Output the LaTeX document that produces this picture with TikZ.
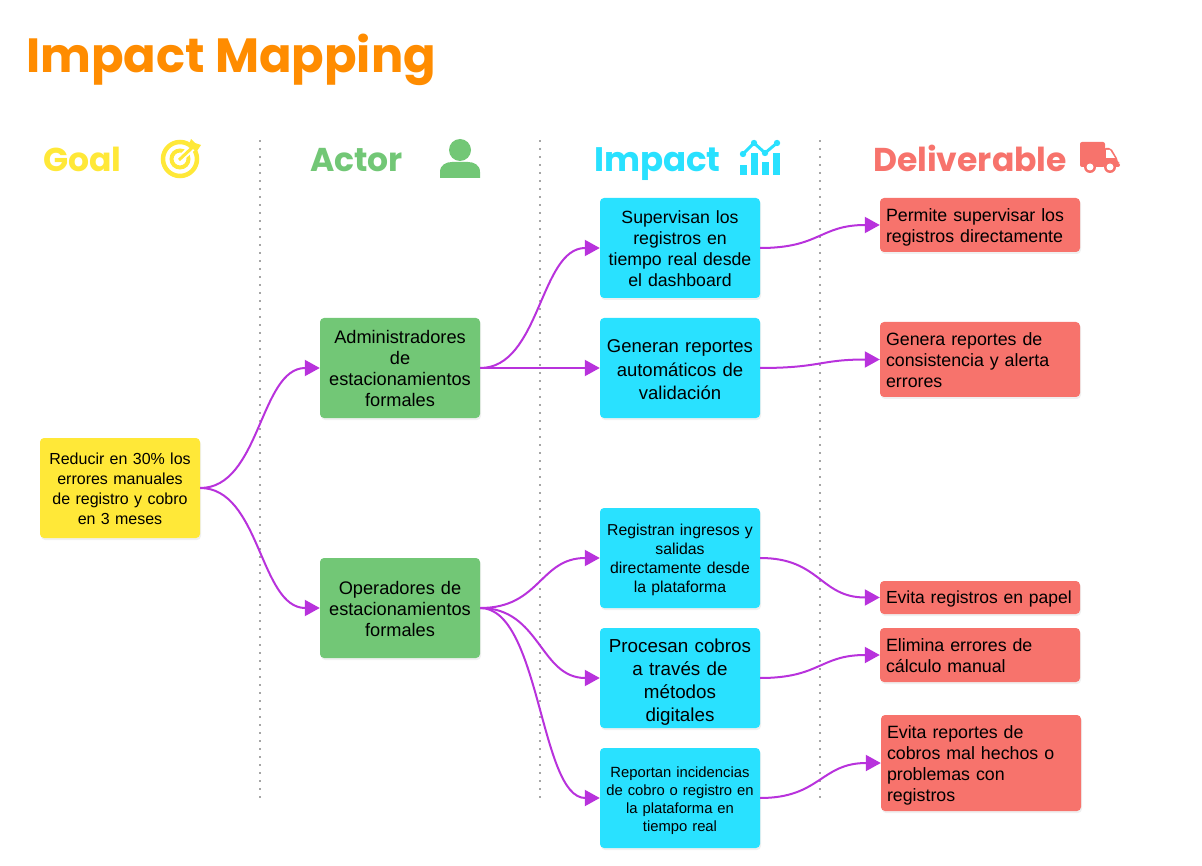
\documentclass[tikz,border=0pt]{standalone}
\usepackage{fontspec}
\setmainfont{Liberation Sans}
\newfontfamily\headfont{Poppins}
\usetikzlibrary{arrows.meta,shadows}
\definecolor{titleOrange}{HTML}{FF8C00}
\definecolor{goalYellow}{HTML}{FFE838}
\definecolor{actorGreen}{HTML}{72C776}
\definecolor{impactCyan}{HTML}{29E1FF}
\definecolor{delivRed}{HTML}{F7736C}
\definecolor{flowPurple}{HTML}{B832DC}
\begin{document}
\begin{tikzpicture}[x=1pt,y=-1pt,
                    box/.style={rounded corners=4pt, minimum width=160pt, minimum height=100pt, inner sep=4pt, text width=152pt, align=center,
                                drop shadow={shadow xshift=1pt, shadow yshift=-2pt, opacity=.12}},
                    down/.style={execute at end node={\endgraf\vspace*{-#1pt}}},
                    goal_box/.style={box, fill=goalYellow, font=\fontsize{16}{20}\selectfont},
                    actor_box/.style={box, fill=actorGreen, font=\fontsize{18.2}{21}\selectfont},
                    impact_box/.style={box, fill=impactCyan},
                    deliv_box/.style={box, fill=delivRed, minimum width=200pt, text width=188pt, inner sep=6pt, align=left, font=\fontsize{17.8}{21}\selectfont},
                    heading/.style={font=\headfont\bfseries\fontsize{#1}{40}\selectfont, inner sep=0, anchor=base west},
                    flow/.style={-{Triangle[length=15pt,width=16pt]}, line width=2pt, flowPurple},
                    divider/.style={line width=2pt, dash pattern=on 2pt off 6pt, black!35}
                    ]
    \useasboundingbox (0,0) rectangle (1202,866);

    \node[heading=48, titleOrange] (title) at (26,73) {Impact Mapping};

    \node[heading=33, goalYellow] (goalHead) at (43,172) {Goal};
    \node[heading=33, actorGreen] (actorHead) at (310,172) {Actor};
    \node[heading=34, impactCyan] (impactHead) at (594,172) {Impact};
    \node[heading=33, delivRed] (delivHead) at (873,172) {Deliverable};

    \foreach \x in {260,540,820} {
        \draw[divider] (\x,140) -- (\x,800);
    }

    % icons
    \draw[goalYellow, line width=4.5pt] (180,159) circle (17);
    \draw[goalYellow, line width=4pt] (180,159) circle (8.5);
    \draw[white, line width=7pt] (181,158) -- (196,144);
    \draw[goalYellow, line width=3pt] (179,160) -- (194,146);
    \fill[goalYellow] (188,147) -- (191,139) -- (195,143) -- (201,145) -- (197,151) -- cycle;

    \fill[actorGreen] (460,150) circle (11);
    \fill[actorGreen] (440,178) -- (440,172) .. controls (440,165) and (446,162) .. (452,162)
        -- (468,162) .. controls (474,162) and (480,165) .. (480,172) -- (480,178) -- cycle;

    \fill[impactCyan] (740,165) rectangle (747,175);
    \fill[impactCyan] (751,153) rectangle (758,175);
    \fill[impactCyan] (762,162) rectangle (769,175);
    \fill[impactCyan] (773,153) rectangle (780,175);
    \draw[impactCyan, line width=3pt] (743,154) -- (754,143) -- (765,153) -- (777,143);
    \foreach \px/\py in {743/154,754/143,765/153,777/143} {
        \fill[impactCyan] (\px,\py) circle (3.2);
    }

    \fill[delivRed, rounded corners=2pt] (1080,142) rectangle (1105,167);
    \fill[delivRed, rounded corners=2pt] (1104,148) -- (1111,148) -- (1118,160) -- (1118,163) -- (1120,163) -- (1120,167) -- (1104,167) -- cycle;
    \fill[white] (1106,150) -- (1110,150) -- (1115,158) -- (1106,158) -- cycle;
    \foreach \wx in {1090,1110} {
        \fill[delivRed] (\wx,167) circle (6);
        \fill[white] (\wx,167) circle (3.5);
    }

    % boxes
    \node[goal_box, down=2] (goal) at (120,488) {Reducir en 30\% los\\errores manuales\\de registro y cobro\\en 3 meses};

    \node[actor_box] (actorA) at (400,368) {Administradores\\de\\estacionamientos\\formales};
    \node[actor_box, down=2] (actorB) at (400,608) {Operadores de\\estacionamientos\\formales};

    \node[impact_box, down=2, font=\fontsize{17.7}{21}\selectfont] (impactA) at (680,248) {Supervisan los\\registros en\\tiempo real desde\\el dashboard};
    \node[impact_box, down=4, font=\fontsize{18.5}{23.5}\selectfont] (impactB) at (680,368) {Generan reportes\\automáticos de\\validación};
    \node[impact_box, down=4, font=\fontsize{15.8}{19}\selectfont] (impactC) at (680,558) {Registran ingresos y\\salidas\\directamente desde\\la plataforma};
    \node[impact_box, down=8, font=\fontsize{18.8}{23}\selectfont] (impactD) at (680,678) {Procesan cobros\\a través de\\métodos\\digitales};
    \node[impact_box, down=6, font=\fontsize{14.8}{18}\selectfont] (impactE) at (680,798) {Reportan incidencias\\de cobro o registro en\\la plataforma en\\tiempo real};

    \node[deliv_box, down=4, minimum height=54pt] (delivA) at (980,225) {Permite supervisar los\\registros directamente};
    \node[deliv_box, down=2, minimum height=75pt] (delivB) at (980,359.5) {Genera reportes de\\consistencia y alerta\\errores};
    \node[deliv_box, down=4, minimum height=33pt, font=\fontsize{17.5}{21}\selectfont] (delivC) at (980,597.5) {Evita registros en papel};
    \node[deliv_box, down=2, minimum height=54pt] (delivD) at (980,655) {Elimina errores de\\cálculo manual};
    \node[deliv_box, down=4, minimum height=96pt] (delivE) at (981,763) {Evita reportes de\\cobros mal hechos o\\problemas con\\registros};

    % connectors
    \foreach \from/\to in {goal/actorA,goal/actorB,actorA/impactA,actorA/impactB,actorB/impactC,actorB/impactD,actorB/impactE,impactA/delivA,impactB/delivB,impactC/delivC,impactD/delivD,impactE/delivE} {
        \draw[flow] (\from.east) .. controls +(60,0) and +(-60,0) .. (\to.west);
    }
\end{tikzpicture}
\end{document}
